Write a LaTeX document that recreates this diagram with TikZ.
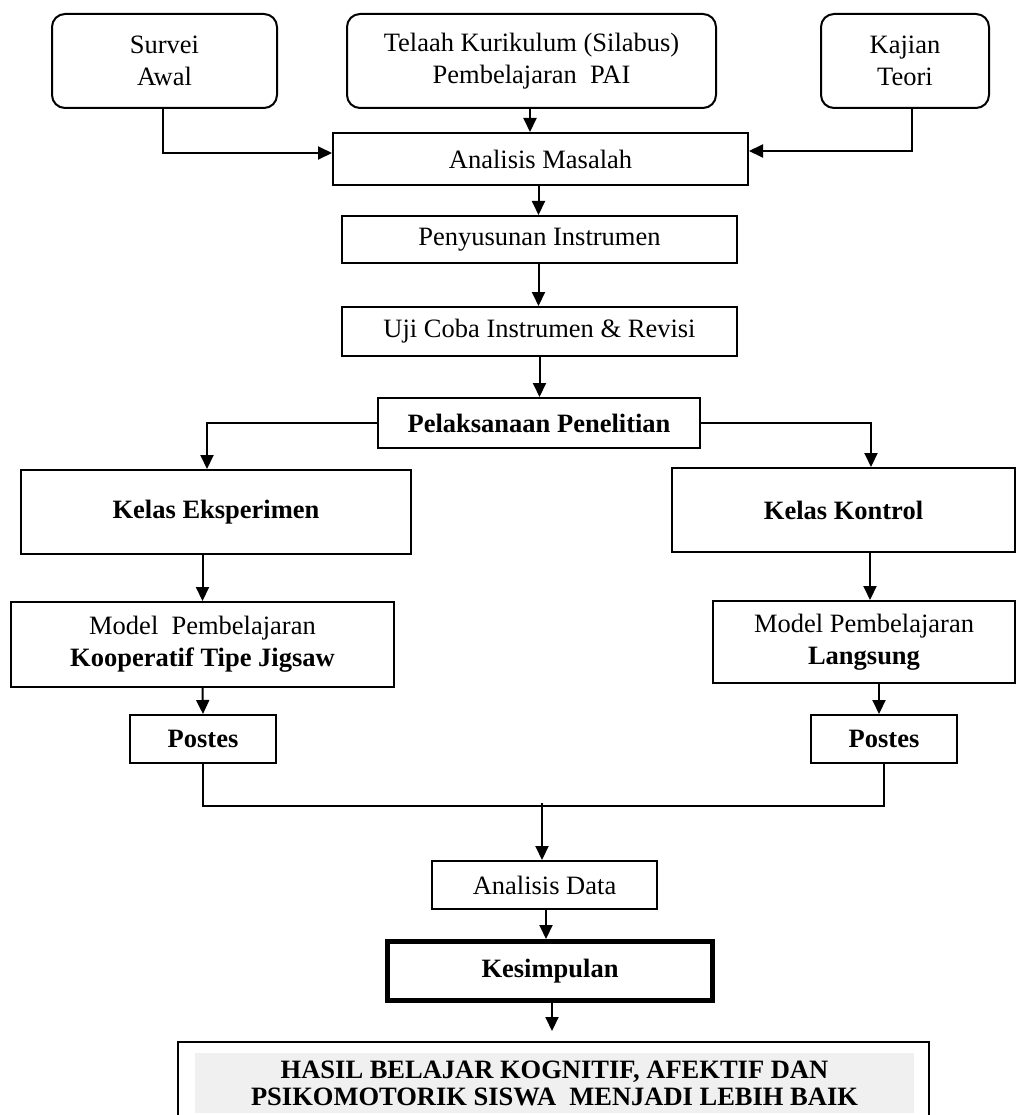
\documentclass[tikz,border=0pt]{standalone}
\usepackage{fontspec}
\setmainfont{Liberation Serif}
\usepackage{tikz}
\usetikzlibrary{arrows.meta, positioning, calc}

\tikzset{
  roundbox/.style={draw, rounded corners=13pt, line width=2pt, align=center, inner sep=0pt},
  plainbox/.style={draw, line width=2pt, align=center, inner sep=0pt},
  flowarrow/.style={-{Triangle[length=14pt, width=13pt]}, line width=2pt},
  flowline/.style={line width=2pt}
}

\begin{document}
\begin{tikzpicture}[x=1pt, y=-1pt, font=\fontsize{26.5}{32}\selectfont]
  \useasboundingbox (0,0) rectangle (1016,1115);

  % sources
  \node[roundbox, minimum width=225pt, minimum height=94pt] (survei) at (164.5,61) {Survei\\Awal};
  \node[roundbox, minimum width=369pt, minimum height=94pt] (telaah) at (531.5,61) {Telaah Kurikulum (Silabus)\\Pembelajaran\ \ PAI};
  \node[roundbox, minimum width=168pt, minimum height=94pt] (kajian) at (905,61) {Kajian\\Teori};

  % main steps
  \node[plainbox, minimum width=415pt, minimum height=52pt] (analisis) at (540.5,159) {Analisis Masalah};
  \node[plainbox, minimum width=395pt, minimum height=47pt] (penyusunan) at (539.5,239.5) {Penyusunan Instrumen};
  \node[plainbox, minimum width=395pt, minimum height=49pt] (ujicoba) at (539.5,331.5) {Uji Coba Instrumen \& Revisi};
  \node[plainbox, minimum width=322pt, minimum height=50pt] (pelaksanaan) at (539,423) {\textbf{Pelaksanaan Penelitian}};

  % two classes
  \node[plainbox, minimum width=390pt, minimum height=84pt] (eksperimen) at (216,512) {\textbf{Kelas Eksperimen}};
  \node[plainbox, minimum width=343pt, minimum height=84pt] (kontrol) at (843.5,510) {\textbf{Kelas Kontrol}};
  \node[plainbox, minimum width=383pt, minimum height=85pt] (jigsaw) at (202.5,644.5) {Model\ \ Pembelajaran\\\textbf{Kooperatif Tipe Jigsaw}};
  \node[plainbox, minimum width=302pt, minimum height=82pt] (langsung) at (864,642) {Model Pembelajaran\\\textbf{Langsung}};
  \node[plainbox, minimum width=146pt, minimum height=48pt] (postesA) at (203,739) {\textbf{Postes}};
  \node[plainbox, minimum width=146pt, minimum height=48pt] (postesB) at (884,739) {\textbf{Postes}};

  % ending
  \node[plainbox, minimum width=225pt, minimum height=48pt] (data) at (544.5,885) {Analisis Data};
  \node[plainbox, line width=5pt, minimum width=325pt, minimum height=59pt] (kesimpulan) at (550,971) {\textbf{Kesimpulan}};
  \node[plainbox, minimum width=751pt, minimum height=74pt] (hasil) at (553.5,1079) {};
  \node[fill=black!6, minimum width=719pt, minimum height=60pt, inner sep=0pt, align=center,
        font=\fontsize{26.5}{27}\selectfont\bfseries] (hasiltxt) at (554.5,1083)
    {HASIL BELAJAR KOGNITIF, AFEKTIF DAN\\PSIKOMOTORIK SISWA\ \ MENJADI LEBIH BAIK};

  \coordinate (join) at (542,806);

  % connectors
  \draw[flowarrow] ([xshift=-2pt]survei.south) |- ([yshift=6pt]analisis.west);
  \draw[flowarrow] ([xshift=-1.5pt]telaah.south) -- ([xshift=-1.5pt]telaah.south |- analisis.north);
  \draw[flowarrow] ([xshift=7pt]kajian.south) |- ([yshift=8pt]analisis.east);
  \draw[flowarrow] ([xshift=-2pt]analisis.south) -- ([xshift=-2pt]analisis.south |- penyusunan.north);
  \draw[flowarrow] ([xshift=-1pt]penyusunan.south) -- ([xshift=-1pt]penyusunan.south |- ujicoba.north);
  \draw[flowarrow] (ujicoba.south) -- (ujicoba.south |- pelaksanaan.north);
  \draw[flowarrow] (pelaksanaan.west) -| ([xshift=-9pt]eksperimen.north);
  \draw[flowarrow] (pelaksanaan.east) -| ([xshift=27.5pt]kontrol.north);
  \draw[flowarrow] (jigsaw.north |- eksperimen.south) -- (jigsaw.north);
  \draw[flowarrow] ([xshift=6pt]langsung.north |- kontrol.south) -- ([xshift=6pt]langsung.north);
  \draw[flowarrow] (jigsaw.south) -- (postesA.north);
  \draw[flowarrow] ([xshift=-5pt]postesB.north |- langsung.south) -- ([xshift=-5pt]postesB.north);
  \draw[flowline] (postesA.south) |- (join) -| (postesB.south);
  \draw[flowarrow] ([yshift=3pt]join) -- (join |- data.north);
  \draw[flowarrow] ([xshift=1.5pt]data.south) -- ([xshift=1.5pt]data.south |- kesimpulan.north);
  \draw[flowarrow, shorten >=10pt] ([xshift=2pt]kesimpulan.south) -- ([xshift=2pt]kesimpulan.south |- hasil.north);
\end{tikzpicture}
\end{document}
